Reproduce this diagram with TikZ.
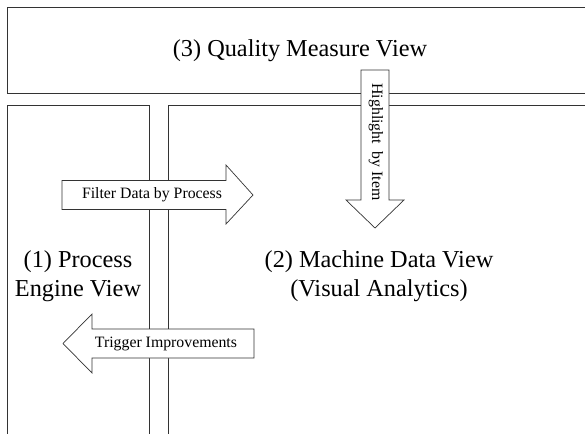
\documentclass[tikz,border=0pt]{standalone}
\usepackage{fontspec}
\setmainfont{Liberation Serif}
\begin{document}
\begin{tikzpicture}[x=1pt,y=-1pt,
  frame/.style={draw=black!80,line width=0.9pt},
  arrowbox/.style={draw=black!80,line width=0.7pt,fill=white},
  big/.style={font=\fontsize{24.3}{29}\selectfont,align=center,inner sep=0pt},
  small/.style={font=\fontsize{15.8}{18}\selectfont,inner sep=0pt}]
\useasboundingbox (0,0) rectangle (585,433);
% frames
\draw[frame] (590,7) -- (7,7) -- (7,93) -- (590,93);
\draw[frame] (7,440) -- (7,105) -- (149,105) -- (149,440);
\draw[frame] (168,440) -- (168,105) -- (590,105);
% arrows
\draw[arrowbox] (62,180.5) -- (226,180.5) -- (226,165) -- (253,195) -- (226,224) -- (226,209.5) -- (62,209.5) -- cycle;
\draw[arrowbox] (254,329) -- (92,329) -- (92,314) -- (63,343.5) -- (92,373) -- (92,358) -- (254,358) -- cycle;
\draw[arrowbox] (361,70) -- (389,70) -- (389,200) -- (404,200) -- (375,228) -- (346,200) -- (361,200) -- cycle;
% labels
\node[big] (q) at (300,51) {(3) Quality Measure View};
\node[big] (p) at (78,276) {(1) Process\\Engine View};
\node[big] (m) at (379,276) {(2) Machine Data View\\(Visual Analytics)};
\node[small] (f) at (152,195) {Filter Data by Process};
\node[small] (t) at (166,343.5) {Trigger Improvements};
\node[small,rotate=-90] (h) at (376,142) {Highlight\ \ by Item};
\end{tikzpicture}
\end{document}
